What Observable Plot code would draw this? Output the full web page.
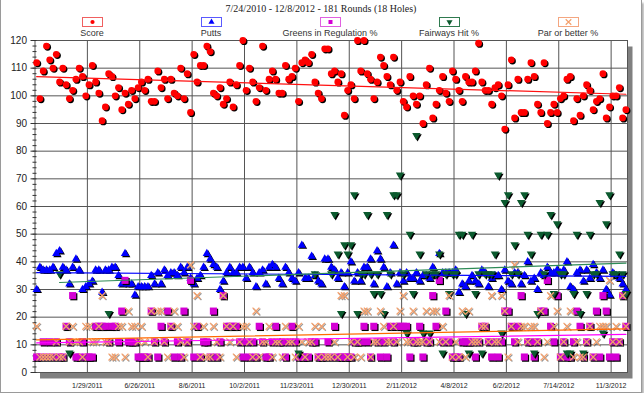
<!DOCTYPE html>
<html><head><meta charset="utf-8">
<script src="https://cdn.jsdelivr.net/npm/d3@7"></script>
<script src="https://cdn.jsdelivr.net/npm/@observablehq/plot@0.6"></script>
<style>
body{margin:0;background:#fff;}
#chart{position:relative;width:640px;height:392px;border:1px solid #9a9a9a;border-top:none;box-shadow:2px 3px 2px rgba(0,0,0,0.3);background:#fff;}
#plot{position:absolute;top:0;left:0;}
#head{position:absolute;top:0;left:0;width:640px;height:40px;z-index:2;}
#title{position:absolute;top:3px;left:0;width:640px;text-align:center;font:10px "Liberation Serif","Times New Roman",serif;color:#222;white-space:nowrap;}
.leg{position:absolute;top:17px;width:130px;margin-left:-65px;text-align:center;font:9px "Liberation Sans",Arial,sans-serif;color:#333;white-space:nowrap;line-height:10px;}
.leg svg{display:block;margin:0 auto 1px;}
</style></head>
<body>
<div id="chart"><div id="plot"></div><div id="head"><div id="title"></div></div></div>
<script>
const titleText = "7/24/2010 - 12/8/2012 - 181 Rounds (18 Holes)";
const seriesNames = ["Score", "Putts", "Greens in Regulation %", "Fairways Hit %", "Par or better %"];
const legendCenters = [91, 210, 329, 448, 567];
const xTickLabels = ["1/29/2011","6/26/2011","8/6/2011","10/2/2011","11/23/2011","12/30/2011","2/11/2012","4/8/2012","6/2/2012","7/14/2012","11/3/2012"];
const xTickRounds = [15.5,31.5,47.5,63.5,79.5,95.5,111.5,127.5,143.5,159.5,175.5];

const score = [112,99,109,118,113,110,115,105,110,104,
99,102,106,110,107,100,104,111,105,101,
91,96,108,107,100,103,95,101,97,102,
99,103,105,102,106,98,98,109,103,106,
99,106,101,100,110,99,108,94,115,105,
111,111,118,116,101,100,103,97,99,105,
96,104,111,120,102,110,105,98,103,118,
102,106,109,106,101,101,111,106,107,110,
98,112,113,112,115,105,101,99,117,117,
108,109,105,108,93,102,104,99,120,109,
120,108,106,99,105,114,111,107,104,114,
102,105,98,96,107,100,97,100,90,104,
110,92,97,102,107,101,98,109,106,102,
98,107,105,105,109,119,105,102,102,97,
103,104,100,88,104,113,92,106,94,94,
106,112,107,97,94,112,90,94,97,94,
99,100,106,107,91,99,93,100,104,102,
95,98,99,108,92,96,100,100,103,92,95];

const putts = [30,38,37,37,37,38,43,44,38,37,
32,38,41,37,30,31,32,33,37,37,
29,37,37,38,38,35,32,43,32,32,
28,31,31,31,31,35,32,36,32,37,
35,36,36,35,38,36,38,34,32,34,
35,38,43,41,39,38,30,33,36,38,
36,36,38,38,34,38,36,31,36,37,
32,38,39,38,34,32,38,36,34,33,
36,46,34,34,42,35,33,32,41,41,
38,37,34,36,31,36,40,33,36,33,
38,38,41,32,44,41,38,31,36,46,
32,36,33,36,34,34,36,33,35,35,
34,38,35,43,36,36,36,36,37,29,
32,31,33,35,33,32,37,36,31,34,
35,35,30,37,33,32,36,36,32,35,
40,33,34,30,36,35,38,36,36,37,
36,37,40,31,30,36,37,33,37,34,
39,36,34,37,30,28,36,35,34,32,30];

const gir = [5.6,5.6,11.1,5.6,11.1,5.6,11.1,5.6,5.6,16.7,11.1,27.8,5.6,5.6,11.1,5.6,
5.6,5.6,16.7,16.7,16.7,16.7,11.1,16.7,16.7,11.1,22.2,33.3,11.1,11.1,11.1,5.6,
5.6,5.6,5.6,22.2,11.1,5.6,16.7,11.1,22.2,16.7,5.6,11.1,5.6,22.2,11.1,33.3,
5.6,16.7,5.6,11.1,11.1,5.6,22.2,5.6,11.1,27.8,16.7,16.7,16.7,16.7,11.1,5.6,
11.1,5.6,11.1,5.6,16.7,11.1,5.6,5.6,11.1,16.7,11.1,11.1,5.6,11.1,16.7,11.1,
5.6,5.6,5.6,5.6,11.1,11.1,5.6,5.6,5.6,11.1,5.6,16.7,5.6,5.6,5.6,5.6,
5.6,11.1,11.1,11.1,16.7,11.1,5.6,16.7,11.1,5.6,11.1,5.6,16.7,11.1,16.7,16.7,
16.7,16.7,5.6,11.1,11.1,16.7,5.6,11.1,11.1,27.8,16.7,33.3,11.1,22.2,11.1,5.6,
5.6,5.6,11.1,11.1,11.1,11.1,5.6,11.1,16.7,16.7,11.1,5.6,11.1,5.6,11.1,22.2,
22.2,16.7,11.1,16.7,27.8,5.6,11.1,11.1,5.6,11.1,22.2,22.2,33.3,16.7,11.1,27.8,
5.6,11.1,5.6,5.6,11.1,22.2,16.7,5.6,11.1,16.7,5.6,22.2,5.6,27.8,22.2,5.6,
11.1,5.6,11.1,27.8,16.7];

const par = [16.7,5.6,5.6,5.6,5.6,5.6,11.1,5.6,5.6,16.7,11.1,16.7,11.1,11.1,5.6,16.7,
16.7,11.1,11.1,16.7,27.8,11.1,11.1,5.6,5.6,16.7,16.7,5.6,22.2,16.7,16.7,11.1,
16.7,11.1,5.6,22.2,11.1,22.2,22.2,11.1,5.6,16.7,22.2,16.7,11.1,5.6,11.1,38.9,
16.7,27.8,5.6,16.7,5.6,5.6,16.7,11.1,5.6,27.8,16.7,11.1,16.7,5.6,11.1,16.7,
16.7,11.1,5.6,22.2,5.6,11.1,11.1,16.7,5.6,11.1,11.1,5.6,16.7,11.1,11.1,5.6,
16.7,11.1,5.6,11.1,11.1,16.7,5.6,16.7,5.6,5.6,5.6,11.1,5.6,27.8,27.8,5.6,
11.1,5.6,11.1,5.6,22.2,22.2,5.6,11.1,11.1,22.2,16.7,11.1,11.1,16.7,11.1,22.2,
27.8,11.1,11.1,22.2,11.1,11.1,11.1,22.2,11.1,22.2,22.2,11.1,16.7,11.1,27.8,5.6,
11.1,5.6,22.2,5.6,22.2,11.1,11.1,11.1,16.7,16.7,11.1,27.8,11.1,11.1,27.8,22.2,
5.6,16.7,38.9,11.1,16.7,16.7,11.1,16.7,16.7,11.1,22.2,5.6,11.1,27.8,16.7,22.2,
5.6,11.1,16.7,22.2,5.6,11.1,5.6,5.6,11.1,16.7,5.6,11.1,16.7,16.7,16.7,33.3,
11.1,16.7,11.1,27.8,16.7];

// null = not recorded for that round
const fairways = [null,null,null,null,null,null,null,35.7,null,null,
7.1,null,null,null,null,null,null,null,null,null,
null,null,21.4,null,null,null,null,null,null,null,
null,null,null,null,null,null,null,null,null,null,
null,null,null,null,null,null,null,null,null,null,
null,null,null,null,null,null,null,null,null,null,
null,null,null,null,null,null,null,null,null,null,
null,null,null,null,null,null,null,null,null,null,
7.1,null,null,null,null,35.7,null,null,null,null,
35.7,57.1,42.9,21.4,46.2,42.9,46.2,64.3,21.4,35.7,
35.7,57.1,35.7,28.6,35.7,28.6,21.4,57.1,35.7,64.3,
64.3,71.4,35.7,14.3,50,28.6,85.7,42.9,14.3,35.7,
14.3,35.7,35.7,42.9,7.1,35.7,28.6,35.7,35.7,50,
50,21.4,7.1,50,28.6,35.7,7.1,35.7,35.7,35.7,
42.9,71.4,14.3,61.5,64.3,35.7,46.2,35.7,61.5,64.3,
50,42.9,7.1,21.4,50,35.7,50,57.1,28.6,53.8,
35.7,35.7,7.1,7.1,28.6,50,21.4,7.1,28.6,50,
35.7,35.7,61.5,14.3,53.8,64.3,35.7,35.7,42.9,35.7,28.6];

const markerColors = ["#ff0000", "#0000ff", "#d400d4", "#0b5a2e", "#f4a06c"];
const trendColors = ["#ff1010", "#0000ff", "#ff00ff", "#2e8b57", "#ff6a00"];
const legendBorders = ["#f06060", "#5a5aff", "#e060e0", "#2f7a4f", "#f4a680"];

const triDown = {draw(ctx, size) {
  const y = Math.sqrt(size / (Math.sqrt(3) * 3));
  ctx.moveTo(0, 2 * y); ctx.lineTo(-Math.sqrt(3) * y, -y); ctx.lineTo(Math.sqrt(3) * y, -y); ctx.closePath();
}};
const symbols = ["circle", "triangle", "square", triDown, "times"];
const symbolSizes = [3.4, 3.1, 4.0, 3.1, 3.2];
const keys = ["score", "putts", "gir", "fairways", "par"];

document.getElementById("title").textContent = titleText;

// legend
const head = document.getElementById("head");
const d3Syms = [d3.symbolCircle, d3.symbolTriangle, d3.symbolSquare, triDown, d3.symbolTimes];
const legSizes = [14, 16, 16, 16, 22];
seriesNames.forEach((name, k) => {
  const div = document.createElement("div");
  div.className = "leg";
  div.style.left = legendCenters[k] + "px";
  const svg = d3.create("svg").attr("width", 21).attr("height", 10);
  svg.append("rect").attr("x", 0.5).attr("y", 0.5).attr("width", 20).attr("height", 9)
     .attr("fill", "#fff").attr("stroke", legendBorders[k]);
  const p = svg.append("path").attr("transform", "translate(10.5,5)").attr("d", d3.symbol(d3Syms[k], legSizes[k])());
  if (k === 4) p.attr("fill", "none").attr("stroke", markerColors[k]).attr("stroke-width", 1.2);
  else p.attr("fill", markerColors[k]);
  div.appendChild(svg.node());
  const t = document.createElement("div");
  t.textContent = name;
  div.appendChild(t);
  head.appendChild(div);
});

const rows = d3.range(181).map(i => ({i, score: score[i], putts: putts[i], gir: gir[i], fairways: fairways[i], par: par[i]}));
const tickLabel = new Map(xTickRounds.map((r, k) => [r, xTickLabels[k]]));

const seriesMarks = [];
keys.forEach((key, k) => {
  const data = rows.filter(d => d[key] != null);
  if (k === 4) {
    seriesMarks.push(Plot.dot(data, {x: "i", y: key, symbol: symbols[k], r: symbolSizes[k], stroke: "#555", strokeWidth: 1.3, dx: 1, dy: 1, strokeOpacity: 0.6}));
    seriesMarks.push(Plot.dot(data, {x: "i", y: key, symbol: symbols[k], r: symbolSizes[k], stroke: markerColors[k], strokeWidth: 1.3}));
  } else {
    seriesMarks.push(Plot.dot(data, {x: "i", y: key, symbol: symbols[k], r: symbolSizes[k], fill: "#000", dx: 1.2, dy: 1.2}));
    seriesMarks.push(Plot.dot(data, {x: "i", y: key, symbol: symbols[k], r: symbolSizes[k], fill: markerColors[k]}));
  }
});
const trendMarks = keys.map((key, k) =>
  Plot.linearRegressionY(rows.filter(d => d[key] != null), {x: "i", y: key, stroke: trendColors[k], strokeWidth: 1.2, ci: 0})
);

const chart = Plot.plot({
  width: 640, height: 392,
  marginLeft: 33.5, marginRight: 14, marginTop: 40, marginBottom: 20,
  style: {fontFamily: "'Liberation Sans', Arial, sans-serif", color: "#222", background: "transparent"},
  x: {domain: [-0.5, 180.5], axis: null},
  y: {domain: [0, 120], axis: null},
  marks: [
    Plot.frame({fill: "#808080", dx: 5, dy: 6}),
    Plot.frame({fill: "#fff"}),
    Plot.gridY(d3.range(0, 121, 10), {stroke: "#555", strokeOpacity: 1, strokeWidth: 1}),
    Plot.gridX(xTickRounds, {stroke: "#555", strokeOpacity: 1, strokeWidth: 1}),
    Plot.frame({stroke: "#555"}),
    Plot.axisY(d3.range(0, 121, 2), {tickSize: 4, dx: 2, tickFormat: () => "", label: null, stroke: "#333"}),
    Plot.axisY(d3.range(0, 121, 10), {tickSize: 4, tickPadding: 4, fontSize: 10, label: null, stroke: "#333"}),
    Plot.axisX(xTickRounds, {tickSize: 0, tickPadding: 11, fontSize: 7, tickFormat: d => tickLabel.get(d), label: null}),
    ...seriesMarks,
    ...trendMarks
  ]
});
document.getElementById("plot").appendChild(chart);
</script>
</body></html>
